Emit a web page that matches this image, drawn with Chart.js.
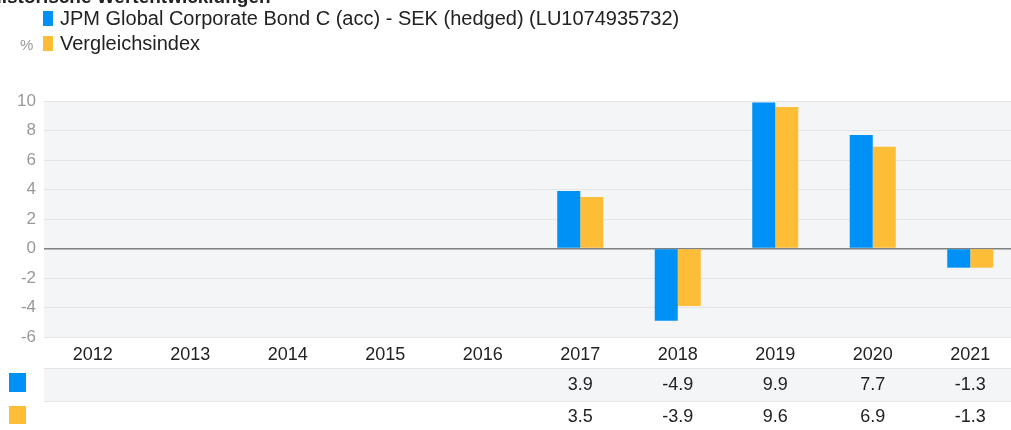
<!DOCTYPE html>
<html><head><meta charset="utf-8">
<script src="https://cdn.jsdelivr.net/npm/chart.js@4.4.1/dist/chart.umd.min.js"></script>
<style>
html,body{margin:0;padding:0;overflow:hidden;background:#fff;}
#wrap{position:relative;width:1019px;height:430px;}
</style></head>
<body><div id="wrap"><canvas id="c" width="1019" height="430"></canvas></div>
<script>
const title = "Historische Wertentwicklungen";
const unitLabel = "%";
const years = ["2012","2013","2014","2015","2016","2017","2018","2019","2020","2021"];
const fundName = "JPM Global Corporate Bond C (acc) - SEK (hedged) (LU1074935732)";
const benchName = "Vergleichsindex";
const fundValues = [null,null,null,null,null,3.9,-4.9,9.9,7.7,-1.3];
const benchValues = [null,null,null,null,null,3.5,-3.9,9.6,6.9,-1.3];
const blue = "#0091f7", yellow = "#fdbd37";
const FONT = "'Liberation Sans', Arial, sans-serif";

const deco = {
  id:'deco',
  beforeDraw(chart){
    const {ctx, chartArea:a} = chart;
    ctx.save();
    ctx.fillStyle = '#f4f5f7';
    ctx.fillRect(a.left, a.top, a.right-a.left, a.bottom-a.top);
    ctx.fillRect(a.left, 368, chart.width-a.left, 33);
    ctx.strokeStyle = '#e3e5e8'; ctx.lineWidth = 1;
    ctx.beginPath(); ctx.moveTo(a.left,368.5); ctx.lineTo(chart.width,368.5);
    ctx.moveTo(a.left,401.5); ctx.lineTo(chart.width,401.5); ctx.stroke();
    ctx.restore();
  },
  afterDraw(chart){
    const {ctx} = chart;
    const xs = chart.scales.x;
    ctx.save();
    ctx.fillStyle = '#222';
    ctx.font = "bold 19px " + FONT;
    ctx.textBaseline = 'alphabetic';
    ctx.fillText(title, -12, 3);
    ctx.font = "20px " + FONT;
    ctx.textBaseline = 'middle';
    ctx.fillStyle = blue; ctx.fillRect(43, 11, 10, 15);
    ctx.fillStyle = yellow; ctx.fillRect(43, 36, 10, 15);
    ctx.fillStyle = '#222';
    ctx.fillText(fundName, 60, 19);
    ctx.fillText(benchName, 60, 44);
    ctx.fillStyle = '#999';
    ctx.font = "15px " + FONT;
    ctx.fillText(unitLabel, 20, 46);
    ctx.fillStyle = blue; ctx.fillRect(9, 373, 17, 19);
    ctx.fillStyle = yellow; ctx.fillRect(9, 406, 17, 18);
    ctx.font = "18px " + FONT;
    ctx.fillStyle = '#222';
    ctx.textAlign = 'center';
    years.forEach((y,i)=>{
      const x = xs.getPixelForValue(i);
      if (fundValues[i] !== null) ctx.fillText(fundValues[i].toFixed(1), x, 385);
      if (benchValues[i] !== null) ctx.fillText(benchValues[i].toFixed(1), x, 417);
    });
    ctx.restore();
  }
};

new Chart(document.getElementById('c'), {
  type:'bar',
  data:{labels:years, datasets:[
    {label:fundName, data:fundValues, backgroundColor:blue, barPercentage:1, categoryPercentage:0.472},
    {label:benchName, data:benchValues, backgroundColor:yellow, barPercentage:1, categoryPercentage:0.472}
  ]},
  options:{
    responsive:false, animation:false, devicePixelRatio:1,
    layout:{padding:{top:101, bottom:63, left:0, right:0}},
    plugins:{legend:{display:false}, tooltip:{enabled:false}},
    scales:{
      x:{
        grid:{display:false, drawTicks:false}, border:{display:false},
        ticks:{color:'#222', font:{family:FONT, size:18}, padding:7, maxRotation:0},
        afterFit(s){ s.height = 30; }
      },
      y:{
        min:-6, max:10,
        grid:{color:(c)=> c.tick && c.tick.value===0 ? '#808080' : '#e3e5e8', lineWidth:(c)=> c.tick && c.tick.value===0 ? 1.5 : 1, drawTicks:false},
        border:{display:false},
        ticks:{stepSize:2, color:'#999', font:{family:FONT, size:17}, padding:8},
        afterFit(s){ s.width = 44; }
      }
    }
  },
  plugins:[deco]
});
</script></body></html>
